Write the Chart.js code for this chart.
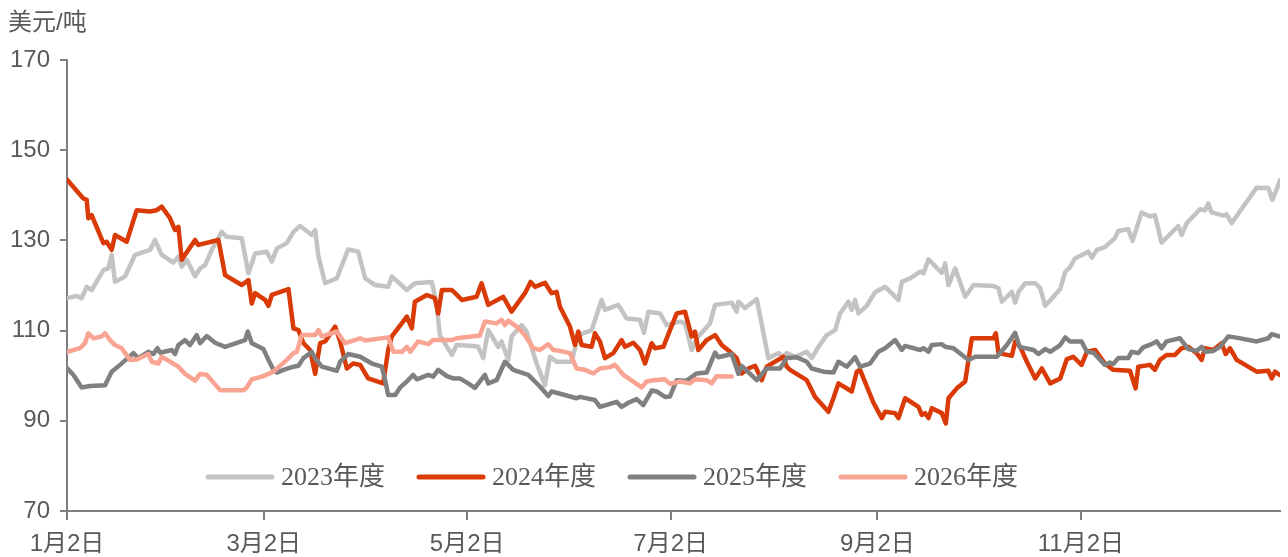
<!DOCTYPE html>
<html>
<head>
<meta charset="utf-8">
<script src="https://cdn.jsdelivr.net/npm/chart.js@4.4.1/dist/chart.umd.min.js"></script>
<style>
    html, body { margin: 0; padding: 0; background: #ffffff; }
    #wrap { width: 1288px; height: 557px; }
</style>
</head>
<body>
<div id="wrap"><canvas id="myChart" width="1288" height="557"></canvas></div>
<script>
// x = days after 1月2日, y = 美元/吨
const seriesNames = ["2023年度", "2024年度", "2025年度", "2026年度"];
const seriesColors = ["#c3c3c3", "#d93a06", "#808080", "#f9a492"];

const tickDays = [0, 59, 120, 181, 243, 304];
const tickLabels = ["1月2日", "3月2日", "5月2日", "7月2日", "9月2日", "11月2日"];

const days2023 = [0.1, 2.9, 4.4, 5.9, 7.4, 10.9, 12.4, 13.4, 14.4, 17.4, 20.4, 24.9, 26.4, 28.4, 31.9, 33.4, 34.4, 35.9, 38.4, 39.9, 41.4, 43.4, 46.4, 47.9, 52.4, 54.4, 56.4, 59.9, 61.4, 62.9, 65.9, 67.9, 69.9, 73.4, 74.4, 75.4, 77.4, 80.9, 84.3, 87.3, 89.4, 92.4, 96.3, 97.4, 101.9, 104.3, 109.4, 110.9, 111.8, 115.4, 116.8, 121.8, 123.3, 124.8, 126.3, 129.3, 130.3, 132.3, 133.3, 136.3, 137.8, 140.8, 143.3, 144.8, 146.8, 151.3, 153.3, 157.3, 160.3, 161.3, 165.3, 167.8, 171.8, 173, 174.3, 177.8, 179.8, 183.8, 185.3, 187.3, 188.8, 192.8, 194.3, 199.3, 200.8, 201.3, 203.3, 206.8, 210.3, 213.3, 214.8, 215.8, 218.3, 221.8, 223.3, 225.3, 227.8, 230.3, 231.8, 234.3, 235.3, 236.3, 237.3, 239.8, 242.3, 245.3, 249.3, 250.3, 252.8, 255.8, 256.8, 258.3, 262.3, 263.3, 264.3, 266.3, 269.3, 271.8, 277.8, 279.3, 280.3, 283.3, 284.3, 285.3, 287.3, 290.3, 291.8, 293.3, 295.4, 297.8, 299.3, 300.7, 302.2, 306.2, 307.3, 308.8, 311.2, 314.2, 315.2, 318.2, 319.5, 322.2, 324.7, 326.2, 328.2, 333.2, 334.2, 335.7, 339.7, 341.2, 342.2, 343.2, 346.7, 347.7, 349.2, 352.7, 356.7, 360.2, 361.4, 362.7, 363.7];
const price2023 = [117.2, 117.7, 117.2, 119.7, 119, 123.4, 123.8, 126.8, 120.8, 122, 126.8, 127.9, 130.1, 126.8, 125.1, 126.4, 124.2, 125.7, 122, 123.8, 124.5, 127.9, 131.9, 130.8, 130.5, 122.7, 127.1, 127.5, 125.3, 128.2, 129.4, 131.9, 133.2, 131.2, 132.3, 126.4, 120.5, 121.6, 128, 127.5, 121.6, 120.1, 119.7, 122, 119, 120.5, 120.8, 115.3, 109, 104.6, 106.8, 106.6, 106.4, 103.9, 110.1, 106.4, 107.6, 103.5, 108.7, 111.2, 109.8, 102.7, 97.9, 104.2, 103.1, 103.1, 109, 110.1, 116.8, 114.6, 115.7, 112.7, 112.4, 109.5, 114.2, 113.8, 111.2, 112, 111.6, 105.7, 108.3, 111.6, 115.7, 116.2, 114.2, 116.4, 115, 117, 103.9, 105, 104.2, 105, 104.2, 105.3, 103.9, 106.4, 109, 110.1, 113.8, 116.4, 114.6, 116.8, 113.8, 115.5, 118.5, 119.7, 116.8, 120.8, 121.6, 123.1, 122.7, 125.8, 122.8, 124.9, 120.1, 123.8, 117.5, 120.1, 119.9, 119.4, 116.4, 118.6, 116.2, 118.6, 120.5, 120.5, 119.4, 115.5, 117.2, 119.2, 123, 124, 126, 127.5, 126.2, 127.9, 128.5, 130.5, 132.1, 132.5, 129.9, 136.2, 135.3, 135.6, 129.5, 133.2, 131.2, 133.8, 136.9, 136.7, 138.2, 136.2, 135.5, 135.8, 133.8, 137.5, 141.7, 141.6, 139, 141.3, 143.4];

const days2024 = [0.1, 4.9, 5.9, 6.4, 7.4, 10.9, 11.9, 13.4, 14.4, 17.9, 20.9, 24.9, 26.9, 28.4, 30.9, 32.4, 33.4, 34.4, 38.4, 39.4, 45.4, 47.4, 52.4, 54.4, 55.4, 56.4, 59.4, 60.4, 61.4, 66.4, 67.9, 69.4, 70.9, 72.9, 74.4, 75.9, 77.4, 78.4, 80.4, 81.9, 83.9, 85.8, 87.9, 90.3, 94.8, 96.3, 97.4, 101.9, 103.4, 104.3, 107.9, 110.3, 111.3, 112.4, 115.4, 118.4, 122.8, 124.3, 126.3, 130.8, 133.3, 137.3, 139, 140.3, 143.3, 145.3, 146.8, 147.8, 150.8, 152.3, 153.3, 154.3, 157.3, 158.3, 159.8, 161.3, 163.8, 166.3, 167.3, 169.8, 171.8, 173.3, 175.3, 176.3, 178.8, 180.8, 182.8, 185.3, 187.3, 188.3, 189.3, 191.8, 194.3, 196.3, 198.8, 200.8, 202.3, 204.3, 206.3, 208.3, 209.8, 214.8, 215.8, 216.8, 221.8, 224.3, 228.3, 229.8, 231.3, 235.3, 236.8, 237.8, 241.8, 244.3, 245.3, 248.3, 249.3, 251.3, 255.3, 256.3, 257.3, 258.3, 259.3, 262.3, 263.5, 264.3, 266.8, 269.3, 271.3, 277.8, 278.5, 279.3, 283.3, 284.3, 285.8, 287.8, 290.3, 292.3, 294.8, 297.8, 299.8, 301.7, 304.2, 305.8, 308.3, 311.2, 313.7, 318.7, 320.4, 321.2, 324.7, 326.2, 327.7, 329.7, 332.2, 334.2, 336.2, 338.7, 340.2, 341.2, 343.7, 346.2, 347.4, 348.7, 350.7, 356.7, 360.2, 361.2, 362.2, 363.5];
const price2024 = [143.4, 139.3, 139, 134.9, 135.6, 129.4, 129.7, 127.9, 131.2, 129.7, 136.7, 136.4, 136.7, 137.5, 134.9, 132.3, 133, 125.7, 130.1, 129, 130.1, 122.3, 120.1, 121.2, 116, 118.3, 116.8, 115.5, 117.9, 119.2, 110.5, 110.1, 107.2, 105.7, 100.4, 107.2, 107.6, 108.7, 110.9, 107.6, 101.6, 102.7, 102.4, 99.4, 98.3, 105.7, 108.7, 113.1, 110.5, 116.4, 117.9, 117.2, 113.8, 119, 119, 116.8, 117.5, 120.5, 115.7, 117.5, 114.2, 118.3, 120.8, 119.7, 120.6, 118.3, 118.6, 115.3, 110.9, 106.8, 109.8, 106.8, 106.4, 109.4, 107.6, 103.9, 105, 107.9, 106.4, 107.3, 105.7, 102.7, 107.2, 106.1, 106.4, 110.1, 113.8, 114.2, 108.7, 109.8, 105.7, 107.9, 109, 106.8, 105.3, 103.9, 100.5, 101.6, 102.2, 99, 102, 104.2, 102, 101.3, 99, 95.3, 92, 95, 98.3, 96.5, 100.9, 101.3, 94, 90.6, 92, 91.7, 90.6, 95, 93.1, 91.3, 91.7, 90.6, 92.8, 91.7, 89.4, 95, 97.2, 98.7, 108.3, 108.3, 109.4, 105, 104.4, 107.6, 106.4, 103.1, 99.4, 101.6, 98.3, 99.4, 103.7, 104.2, 102.4, 105.3, 105.7, 102.7, 101.3, 101.1, 97.2, 102, 102.4, 101.3, 103.5, 104.6, 104.6, 106.1, 106.4, 105, 103.5, 106.1, 105.7, 107.2, 104.8, 106.1, 103.5, 100.9, 101.1, 99.4, 100.9, 100.2];

const days2025 = [0.1, 1.9, 4.4, 6.9, 11.4, 13.4, 15.9, 19.9, 21.4, 24.4, 25.9, 27.1, 27.9, 31.4, 32.4, 33.4, 35.4, 36.9, 38.9, 39.9, 41.9, 44.4, 47.4, 53.4, 54.2, 55.4, 58.9, 60.4, 61.9, 62.9, 64.9, 67.9, 69.4, 70.9, 73.4, 74.4, 76.4, 80.9, 81.9, 84.3, 87.9, 91.4, 94.4, 95.4, 96.3, 98.4, 99.9, 101.9, 103.8, 104.9, 108.3, 109.8, 111.3, 113.9, 115.8, 117.8, 120.3, 122.3, 125.3, 126.3, 128.8, 131.3, 133.8, 138.3, 141.8, 144.3, 145.3, 147.3, 152.8, 153.8, 158.3, 159.8, 164.8, 166.3, 168.3, 170.8, 172.8, 175.3, 176.8, 179.3, 180.8, 182.8, 185.8, 188.8, 191.8, 194.3, 195.3, 199.3, 201.3, 202.3, 206.8, 209.8, 213.8, 215.8, 218.8, 221.8, 223.3, 226.8, 229.8, 231.3, 233.8, 236.3, 237.8, 240.8, 243.3, 245.3, 248.3, 250.3, 251.3, 255.8, 256.8, 258.3, 259.3, 262.3, 263.3, 265.8, 270.3, 272.3, 278.8, 281.8, 284.3, 285.6, 289.8, 291.3, 293.3, 294.8, 297.8, 299.3, 300.7, 304.2, 305.8, 307.8, 311.2, 312.7, 313.7, 315.2, 318.2, 319.2, 321.2, 322.7, 325.2, 326.7, 328.2, 329.7, 333.7, 336.2, 338.7, 340.2, 341.2, 343.7, 345.7, 348.2, 350.2, 356.7, 360.2, 361.2, 363.5];
const price2025 = [101.6, 100.2, 97.4, 97.7, 97.9, 100.9, 102.4, 105, 103.9, 105.3, 104.8, 106.1, 105.1, 105.7, 104.8, 106.8, 107.9, 106.8, 109, 107.2, 108.8, 107.3, 106.4, 107.9, 109.8, 107.2, 105.9, 103.5, 101.3, 100.7, 101.3, 102, 102.2, 103.9, 105.3, 103.9, 102, 101.1, 103.1, 104.8, 104.2, 102.7, 102, 99, 95.7, 95.7, 97.4, 98.7, 100.2, 99.2, 100.2, 99.8, 101.3, 99.9, 99.4, 99.4, 98.3, 97.3, 100.2, 98.3, 99, 103.1, 101.3, 100.2, 97.6, 95.5, 96.5, 96.1, 95, 95.3, 94.6, 93.1, 94.2, 93.1, 94, 94.8, 93.5, 96.7, 96.5, 95.3, 95.4, 99, 98.9, 100.5, 100.7, 105.1, 104.1, 104.8, 100.4, 102.2, 99, 101.6, 101.6, 103.9, 104.1, 103.1, 101.6, 100.9, 100.7, 103.1, 102, 104.1, 102, 102.7, 105.3, 106.1, 107.9, 105.7, 106.6, 105.7, 106.1, 105.3, 106.8, 107, 106.4, 106.1, 103.5, 104.2, 104.2, 106.8, 109.5, 106.4, 105.7, 104.8, 105.9, 105.3, 106.8, 108.5, 107.6, 107.6, 105.3, 105.1, 102.4, 102.9, 102.6, 103.9, 103.9, 105.3, 105, 106.3, 107, 107.6, 106.1, 107.6, 108.3, 105.9, 105.5, 106.4, 105.3, 105.5, 106.4, 108.7, 108.5, 107.6, 108.3, 109.2, 108.7];

const days2026 = [0.1, 3.9, 5.4, 6.4, 7.9, 10.4, 11.4, 12.9, 14.4, 16.4, 18.9, 20.9, 24.4, 25.4, 27.4, 28.4, 33.4, 35.4, 38.4, 39.9, 41.9, 45.9, 52.9, 53.9, 55.4, 58.9, 61.9, 65.9, 67.9, 68.9, 70.4, 74.4, 75.4, 76.4, 80.9, 83.4, 87.9, 89.4, 96.3, 97.9, 100.4, 101.9, 102.9, 105.3, 108.3, 109.8, 115.4, 116.8, 123.8, 125.3, 128.8, 130.3, 131.3, 132.3, 134.8, 137.3, 139.8, 141.8, 144.3, 145.8, 147.8, 150.8, 152.8, 155.3, 157.8, 159.8, 162.8, 164.3, 166.8, 169.8, 172.3, 173.8, 175.8, 179.3, 180.8, 183.8, 186.8, 188.3, 191.8, 193.3, 194.8, 199.3];
const price2026 = [105.3, 106.1, 107.2, 109.4, 108.3, 108.7, 109.4, 107.9, 106.8, 106.1, 103.5, 103.6, 104.8, 103.1, 102.7, 104.2, 102, 100.4, 98.9, 100.4, 100.2, 96.8, 96.8, 97.4, 99.2, 99.9, 100.9, 103.5, 105, 105.3, 109, 109, 110.1, 108.7, 109.8, 107.2, 108.3, 107.8, 108.5, 105.3, 105.3, 106.4, 105.3, 107.6, 107, 107.9, 107.9, 108.3, 108.9, 112, 111.6, 112.4, 111.2, 112.2, 110.9, 109, 106.1, 105.7, 107, 105.7, 105.5, 105, 101.6, 101.3, 100.5, 101.6, 101.9, 102.4, 100.2, 98.7, 97.4, 98.7, 99, 99.2, 98.2, 98.7, 98.3, 99.2, 99, 98.3, 99.9, 99.8];

const allDays = [days2023, days2024, days2025, days2026];
const allPrices = [price2023, price2024, price2025, price2026];

const textColor = "#595959";
const axisColor = "#808080";
const sansFont = '"Liberation Sans", Arial, "Noto Sans CJK SC", sans-serif';
const serifFont = '"Liberation Serif", "Times New Roman", "Noto Sans CJK SC", serif';

// legend inside the plot + unit label at the top left
const extrasPlugin = {
    id: "extras",
    afterDraw(chart) {
        const ctx = chart.ctx;
        ctx.save();
        ctx.fillStyle = textColor;
        ctx.font = "24px " + sansFont;
        ctx.textBaseline = "middle";
        ctx.textAlign = "left";
        ctx.fillText("美元/吨", 8, 23);

        const legendY = chart.chartArea.bottom - 34;
        let x = 208;
        ctx.font = "26px " + serifFont;
        seriesNames.forEach((name, i) => {
            ctx.strokeStyle = seriesColors[i];
            ctx.lineWidth = 5;
            ctx.lineCap = "round";
            ctx.beginPath();
            ctx.moveTo(x, legendY);
            ctx.lineTo(x + 64, legendY);
            ctx.stroke();
            ctx.fillStyle = textColor;
            ctx.fillText(name, x + 73, legendY + 1);
            x += 73 + ctx.measureText(name).width + 34;
        });
        ctx.restore();
    }
};

const datasets = seriesNames.map((name, i) => ({
    label: name,
    data: allDays[i].map((d, j) => ({ x: d, y: allPrices[i][j] })),
    borderColor: seriesColors[i],
    backgroundColor: seriesColors[i],
    borderWidth: 4.5,
    pointRadius: 0,
    tension: 0,
    borderJoinStyle: "round",
    borderCapStyle: "round",
    order: seriesNames.length - i
}));

const ctx = document.getElementById("myChart");
new Chart(ctx, {
    type: "line",
    data: { datasets: datasets },
    plugins: [extrasPlugin],
    options: {
        responsive: false,
        animation: false,
        devicePixelRatio: 1,
        layout: { padding: { top: 60, right: 8, left: 0, bottom: 0 } },
        plugins: {
            legend: { display: false },
            tooltip: { enabled: false }
        },
        scales: {
            x: {
                type: "linear",
                min: 0,
                max: 363.7,
                afterBuildTicks: (scale) => {
                    scale.ticks = tickDays.map(v => ({ value: v }));
                },
                afterFit: (scale) => { scale.height = 46; },
                ticks: {
                    autoSkip: false,
                    maxRotation: 0,
                    padding: 10,
                    color: textColor,
                    font: { family: sansFont, size: 24 },
                    callback: (value) => tickLabels[tickDays.indexOf(value)]
                },
                grid: {
                    drawOnChartArea: false,
                    drawTicks: true,
                    tickLength: 9,
                    color: axisColor,
                    lineWidth: 2
                },
                border: { color: axisColor, width: 2 }
            },
            y: {
                min: 70,
                max: 170,
                afterFit: (scale) => { scale.width = 67; },
                ticks: {
                    stepSize: 20,
                    padding: 10,
                    color: textColor,
                    font: { family: sansFont, size: 24 }
                },
                grid: {
                    drawOnChartArea: false,
                    drawTicks: true,
                    tickLength: 7,
                    color: axisColor,
                    lineWidth: 2
                },
                border: { color: axisColor, width: 2 }
            }
        }
    }
});
</script>
</body>
</html>
